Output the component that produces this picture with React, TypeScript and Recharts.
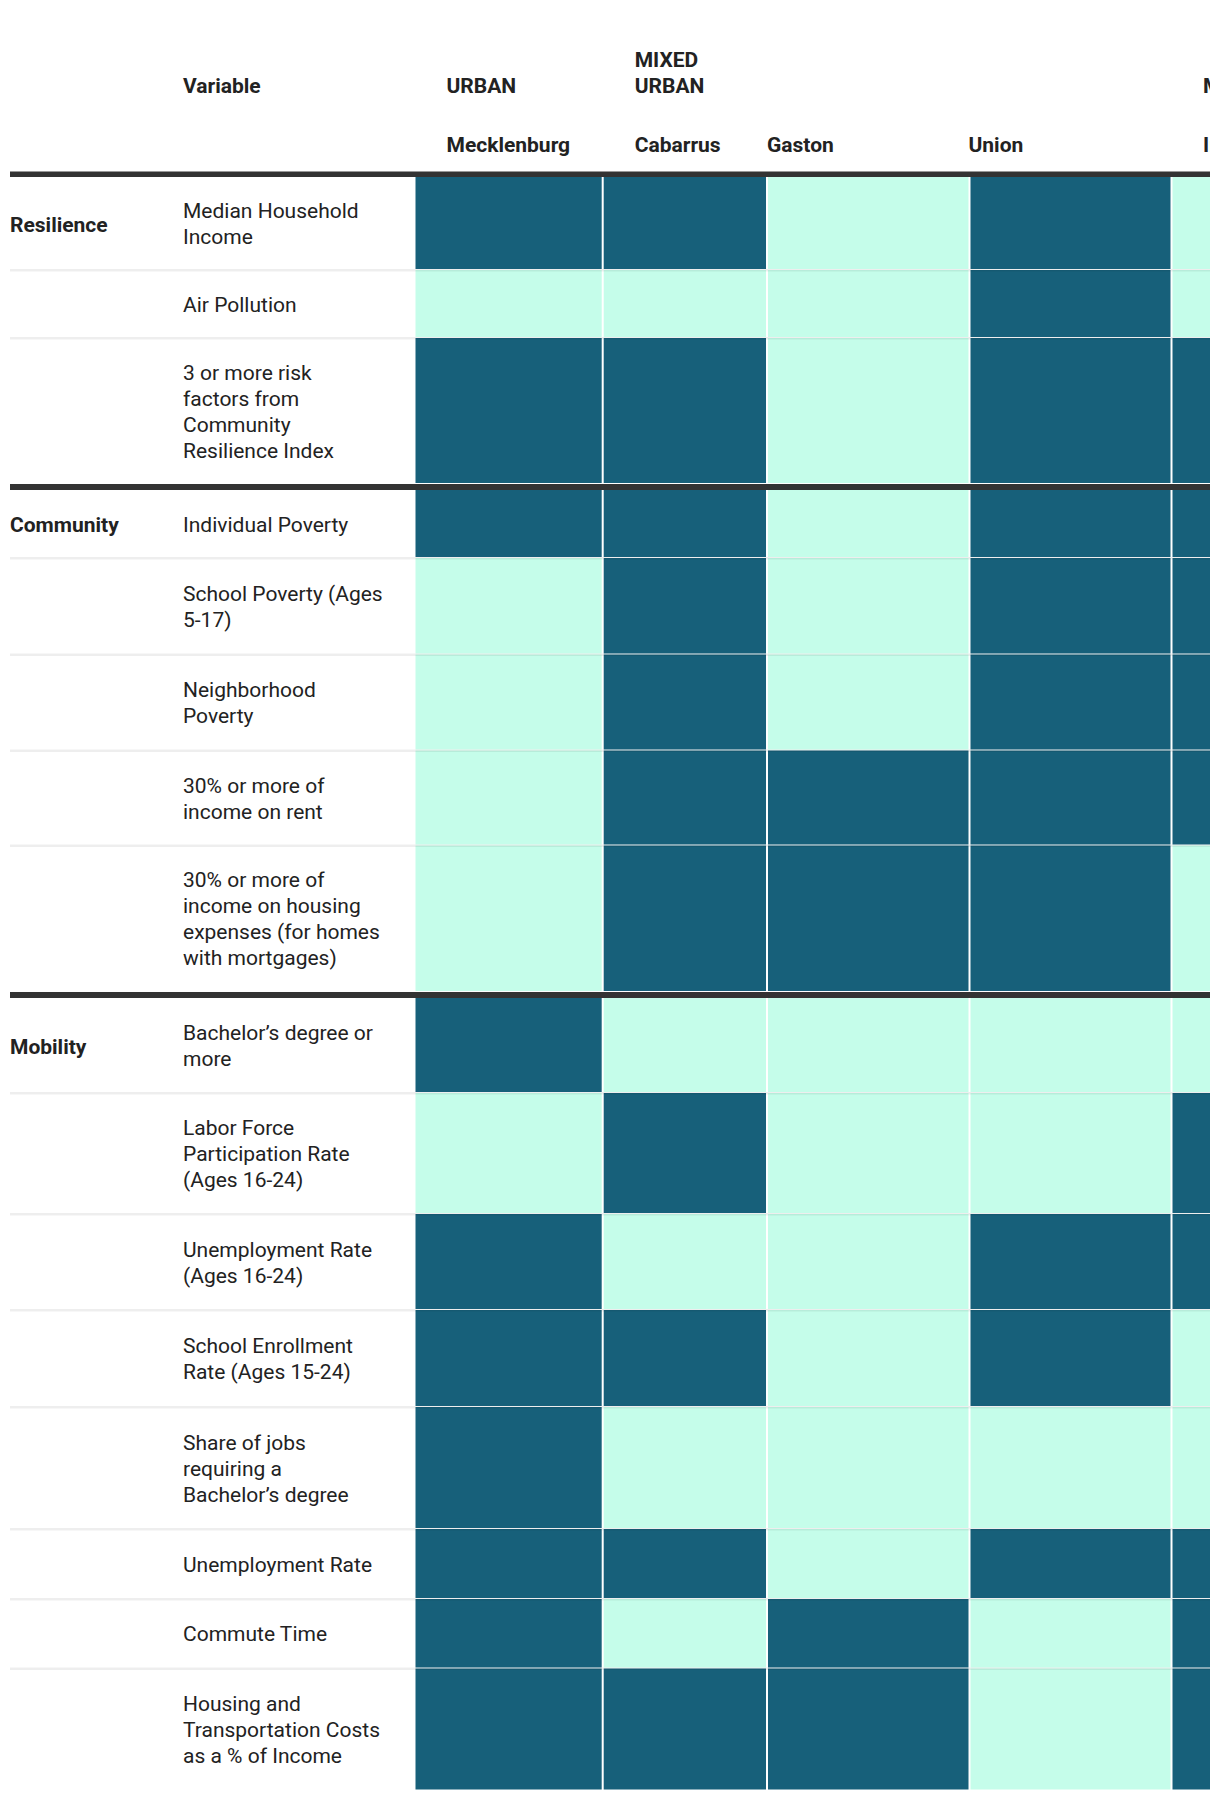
import React from 'react';
import { ComposedChart, XAxis, YAxis, ReferenceArea } from 'recharts';

// ---------------- DATA ----------------
const CATEGORIES = ['Resilience', 'Community', 'Mobility'];

// category index of each variable row
const VARIABLE_CATEGORY = [0, 0, 0, 1, 1, 1, 1, 1, 2, 2, 2, 2, 2, 2, 2, 2];

// variable labels, as wrapped in the table
const VARIABLE_LABELS: string[][] = [
  ['Median Household', 'Income'],
  ['Air Pollution'],
  ['3 or more risk', 'factors from', 'Community', 'Resilience Index'],
  ['Individual Poverty'],
  ['School Poverty (Ages', '5-17)'],
  ['Neighborhood', 'Poverty'],
  ['30% or more of', 'income on rent'],
  ['30% or more of', 'income on housing', 'expenses (for homes', 'with mortgages)'],
  ['Bachelor\u2019s degree or', 'more'],
  ['Labor Force', 'Participation Rate', '(Ages 16-24)'],
  ['Unemployment Rate', '(Ages 16-24)'],
  ['School Enrollment', 'Rate (Ages 15-24)'],
  ['Share of jobs', 'requiring a', 'Bachelor\u2019s degree'],
  ['Unemployment Rate'],
  ['Commute Time'],
  ['Housing and', 'Transportation Costs', 'as a % of Income'],
];

const VARIABLE_HEADER = 'Variable';
const COUNTIES = ['Mecklenburg', 'Cabarrus', 'Gaston', 'Union', 'Iredell'];
const COUNTY_TYPES: string[][] = [['URBAN'], ['MIXED', 'URBAN'], [], [], ['MIXED RURAL']];

// 1 = flagged (dark), 0 = not flagged (light)
const mecklenburg = [1, 0, 1, 1, 0, 0, 0, 0, 1, 0, 1, 1, 1, 1, 1, 1];
const cabarrus = [1, 0, 1, 1, 1, 1, 1, 1, 0, 1, 0, 1, 0, 1, 0, 1];
const gaston = [0, 0, 0, 0, 0, 0, 1, 1, 0, 0, 0, 0, 0, 0, 1, 1];
const union = [1, 1, 1, 1, 1, 1, 1, 1, 0, 0, 1, 1, 0, 1, 0, 0];
const iredell = [0, 0, 1, 1, 1, 1, 1, 0, 0, 1, 1, 0, 0, 1, 1, 1];
const SERIES = [mecklenburg, cabarrus, gaston, union, iredell];

// ---------------- LAYOUT / STYLE ----------------
const W = 1210;
const H = 1800;
const FONT = 'Roboto, "Noto Sans", sans-serif';
const FONT_SIZE = 21;
const DARK = '#17607a';
const LIGHT = '#c5fdea';
const RULE = '#333333';
const TEXT = '#222222';

const TABLE_LEFT = 10;
const CAT_X = 10;
const VAR_X = 183;
const COL_EDGES: [number, number][] = [
  [415.5, 601.7],
  [603.7, 766],
  [768, 968.5],
  [970.5, 1170.5],
  [1172.5, 1380],
];
const HEADER_OFFSETS = [31, 31, -1, -2, 30.5];
const HEADER_RULE: [number, number] = [171.5, 177];
const SECTION_RULE_H = 6;
const ROW_HEIGHTS = [93, 68, 146, 68, 96.5, 96, 95, 146.5, 95, 121, 96, 97, 122, 70, 69.5, 122];
const LINE_H = 26;
const CELL_GAP = 1;
const SEP_H = 1.5;
const GROUP_BASELINE = 92.5;
const COUNTY_BASELINE = 151.7;

type Row = { top: number; bottom: number; center: number; first: boolean; sectionRuleTop?: number };

function buildRows(): Row[] {
  const rows: Row[] = [];
  let y = HEADER_RULE[1];
  for (let i = 0; i < ROW_HEIGHTS.length; i++) {
    const first = i === 0 || VARIABLE_CATEGORY[i] !== VARIABLE_CATEGORY[i - 1];
    let ruleTop: number | undefined;
    if (first && i > 0) {
      ruleTop = y;
      y += SECTION_RULE_H;
    }
    const top = y;
    const bottom = y + ROW_HEIGHTS[i];
    rows.push({ top, bottom, center: (top + bottom) / 2, first, sectionRuleTop: ruleTop });
    y = bottom;
  }
  return rows;
}

const ROWS = buildRows();
const HEADER_X = COL_EDGES.map((e, i) => e[0] + HEADER_OFFSETS[i]);

const boldStyle = { fontFamily: FONT, fontSize: FONT_SIZE, fontWeight: 700, fill: TEXT } as any;
const regStyle = { fontFamily: FONT, fontSize: FONT_SIZE, fontWeight: 400, fill: TEXT } as any;

// label renderers: viewBox comes from the ReferenceArea, i.e. from the axis scales
const headerLabel = (groups: string[], county: string) => (p: any) => {
  const vb = p.viewBox || {};
  const x = vb.x;
  const top = vb.y;
  return (
    <g>
      {groups.map((line, i) => (
        <text key={i} x={x} y={top + GROUP_BASELINE - (groups.length - 1 - i) * LINE_H} style={boldStyle}>
          {line}
        </text>
      ))}
      {county && (
        <text x={x} y={top + COUNTY_BASELINE} style={boldStyle}>
          {county}
        </text>
      )}
    </g>
  );
};

const rowLabel = (lines: string[], bold: boolean, dy: number) => (p: any) => {
  const vb = p.viewBox || {};
  const x = vb.x;
  const cy = vb.y + vb.height / 2;
  const n = lines.length;
  return (
    <g>
      {lines.map((line, i) => (
        <text key={i} x={x} y={cy + (i - (n - 1) / 2) * LINE_H + dy} style={bold ? boldStyle : regStyle}>
          {line}
        </text>
      ))}
    </g>
  );
};

const chartData = ROWS.map((r, i) => ({ x: VAR_X, y: r.center, name: VARIABLE_LABELS[i].join(' ') }));

export default function App() {
  const areas: React.ReactNode[] = [];

  // header rule
  areas.push(
    <ReferenceArea
      key="hr"
      x1={TABLE_LEFT}
      x2={W}
      y1={HEADER_RULE[0]}
      y2={HEADER_RULE[1]}
      fill={RULE}
      fillOpacity={1}
      stroke="none"
      ifOverflow="visible"
    />
  );

  // header labels
  areas.push(
    <ReferenceArea
      key="h-var"
      x1={VAR_X}
      x2={VAR_X + 1}
      y1={0}
      y2={HEADER_RULE[0]}
      fill="#ffffff"
      fillOpacity={0}
      stroke="none"
      ifOverflow="visible"
      label={headerLabel([VARIABLE_HEADER], '')}
    />
  );
  COUNTIES.forEach((county, c) => {
    areas.push(
      <ReferenceArea
        key={`h-${c}`}
        x1={HEADER_X[c]}
        x2={HEADER_X[c] + 1}
        y1={0}
        y2={HEADER_RULE[0]}
        fill="#ffffff"
        fillOpacity={0}
        stroke="none"
        ifOverflow="visible"
        label={headerLabel(COUNTY_TYPES[c], county)}
      />
    );
  });

  ROWS.forEach((row, r) => {
    // cells
    SERIES.forEach((series, c) => {
      areas.push(
        <ReferenceArea
          key={`c-${r}-${c}`}
          x1={COL_EDGES[c][0]}
          x2={COL_EDGES[c][1]}
          y1={row.top}
          y2={row.bottom - CELL_GAP}
          fill={series[r] ? DARK : LIGHT}
          fillOpacity={1}
          stroke="none"
          ifOverflow="visible"
        />
      );
    });
    if (row.sectionRuleTop !== undefined) {
      areas.push(
        <ReferenceArea
          key={`sr-${r}`}
          x1={TABLE_LEFT}
          x2={W}
          y1={row.sectionRuleTop}
          y2={row.sectionRuleTop + SECTION_RULE_H}
          fill={RULE}
          fillOpacity={1}
          stroke="none"
          ifOverflow="visible"
        />
      );
    } else if (!row.first) {
      areas.push(
        <ReferenceArea
          key={`sep-${r}`}
          x1={TABLE_LEFT}
          x2={W}
          y1={row.top - CELL_GAP}
          y2={row.top + SEP_H}
          fill="#000000"
          fillOpacity={0.065}
          stroke="none"
          ifOverflow="visible"
        />
      );
    }
    // category label
    if (row.first) {
      areas.push(
        <ReferenceArea
          key={`cat-${r}`}
          x1={CAT_X}
          x2={VAR_X - 10}
          y1={row.top}
          y2={row.bottom}
          fill="#ffffff"
          fillOpacity={0}
          stroke="none"
          ifOverflow="visible"
          label={rowLabel([CATEGORIES[VARIABLE_CATEGORY[r]]], true, 8)}
        />
      );
    }
    // variable label
    areas.push(
      <ReferenceArea
        key={`var-${r}`}
        x1={VAR_X}
        x2={COL_EDGES[0][0] - 10}
        y1={row.top}
        y2={row.bottom}
        fill="#ffffff"
        fillOpacity={0}
        stroke="none"
        ifOverflow="visible"
        label={rowLabel(VARIABLE_LABELS[r], false, 7.5)}
      />
    );
  });

  return (
    <div
      style={{
        position: 'absolute',
        left: 0,
        top: 0,
        width: W,
        height: H,
        background: '#ffffff',
        overflow: 'hidden',
      }}
    >
      <ComposedChart width={W} height={H} data={chartData} margin={{ top: 0, right: 0, bottom: 0, left: 0 }}>
        <XAxis xAxisId={0} type="number" dataKey="x" domain={[0, W]} hide allowDataOverflow />
        <YAxis yAxisId={0} type="number" dataKey="y" domain={[0, H]} reversed hide allowDataOverflow />
        {areas}
      </ComposedChart>
    </div>
  );
}
